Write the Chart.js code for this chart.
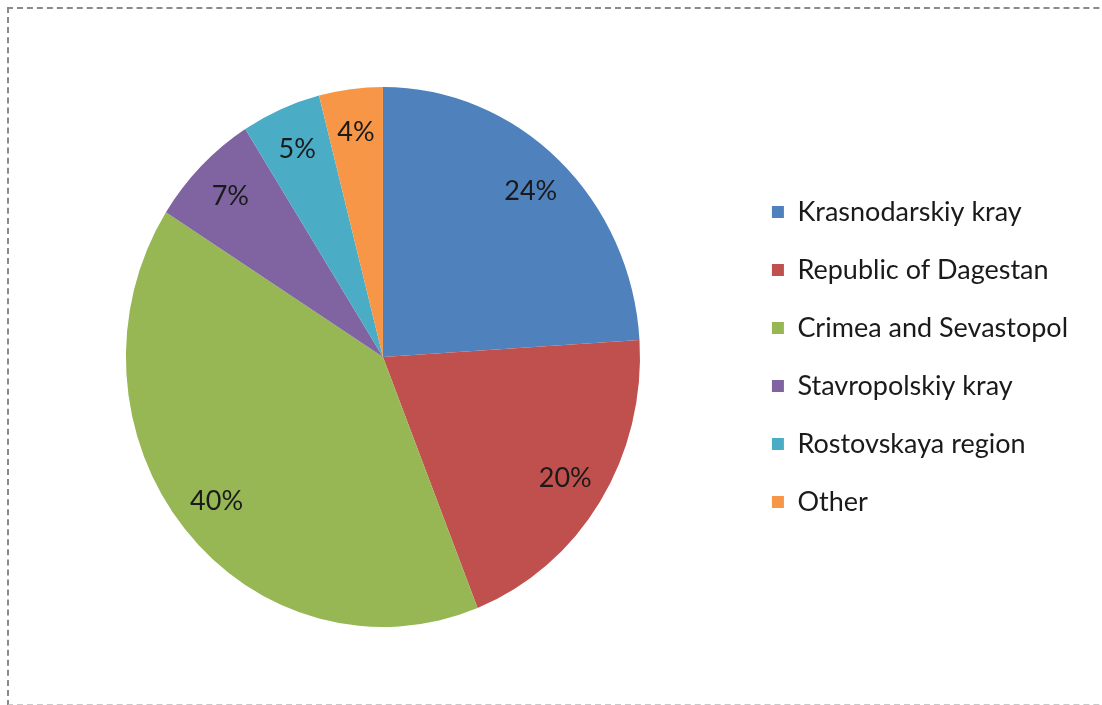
<!DOCTYPE html>
<html>
<head>
<meta charset="utf-8">
<script src="https://cdn.jsdelivr.net/npm/chart.js@4/dist/chart.umd.min.js"></script>
<style>
  html, body { margin: 0; padding: 0; background: #fff; }
  #wrap { position: relative; width: 1102px; height: 705px; overflow: hidden; }
  #frame { position: absolute; left: 7px; top: 7px; width: 1200px; height: 695px;
           border-left: 2px dashed #8a8a8a; border-top: 2px dashed #8a8a8a; border-bottom: 2px dashed #c8c8c8; }
  canvas { position: absolute; left: 0; top: 0; }
</style>
</head>
<body>
<div id="wrap">
  <div id="frame"></div>
  <canvas id="c" width="1102" height="705"></canvas>
</div>
<script>
const categories = ["Krasnodarskiy kray", "Republic of Dagestan", "Crimea and Sevastopol", "Stavropolskiy kray", "Rostovskaya region", "Other"];
const shares = [24, 20, 40, 7, 5, 4];
const colors = ["#4F81BD", "#C0504D", "#96B754", "#8064A2", "#4BACC6", "#F79646"];

const X_SCALE = 0.952;

const squash = {
  id: 'squash',
  beforeDatasetsDraw(chart) {
    const arc = chart.getDatasetMeta(0).data[0];
    const ctx = chart.ctx;
    ctx.save();
    ctx.translate(arc.x, arc.y);
    ctx.scale(X_SCALE, 1);
    ctx.translate(-arc.x, -arc.y);
  },
  afterDatasetsDraw(chart) {
    chart.ctx.restore();
  }
};

const pctLabels = {
  id: 'pctLabels',
  afterDatasetsDraw(chart) {
    const ctx = chart.ctx;
    const meta = chart.getDatasetMeta(0);
    ctx.save();
    ctx.font = '27px Lato, "Liberation Sans", sans-serif';
    ctx.fillStyle = '#1a1a1a';
    ctx.textAlign = 'center';
    ctx.textBaseline = 'middle';
    meta.data.forEach((arc, i) => {
      const mid = (arc.startAngle + arc.endAngle) / 2;
      const r = arc.outerRadius * 0.84;
      ctx.fillText(shares[i] + '%', arc.x + Math.cos(mid) * r * X_SCALE, arc.y + Math.sin(mid) * r);
    });
    ctx.restore();
  }
};

new Chart(document.getElementById('c'), {
  type: 'pie',
  data: {
    labels: categories,
    datasets: [{ data: shares, backgroundColor: colors, borderWidth: 0 }]
  },
  options: {
    responsive: false,
    animation: false,
    layout: { padding: { top: 87, bottom: 78, left: 25, right: 24 } },
    plugins: {
      tooltip: { enabled: false },
      legend: {
        position: 'right',
        labels: {
          boxWidth: 12, boxHeight: 12, padding: 31,
          color: '#1a1a1a',
          font: { family: 'Lato, "Liberation Sans", sans-serif', size: 27 }
        }
      }
    }
  },
  plugins: [squash, pctLabels]
});
</script>
</body>
</html>
